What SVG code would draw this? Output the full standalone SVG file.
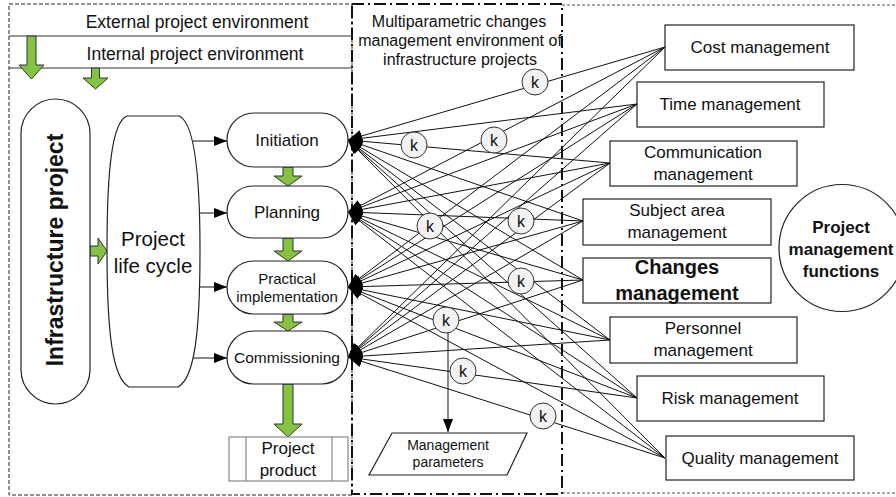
<svg xmlns="http://www.w3.org/2000/svg" width="896" height="497" viewBox="0 0 896 497">
<defs>
<style>
text{font-family:"Liberation Sans",Arial,sans-serif;fill:#111;text-anchor:middle}
.b{font-weight:bold}
.box{fill:#fff;stroke:#222;stroke-width:1.2}
.green{fill:#84c341;stroke:#333;stroke-width:1}
.ln{stroke:#111;stroke-width:1;fill:none}
.k{fill:#f2f2f2;stroke:#333;stroke-width:1}
</style>
<marker id="ah" markerUnits="userSpaceOnUse" markerWidth="15" markerHeight="12" refX="14" refY="6" orient="auto">
<path d="M0,0 L14,6 L0,12 Z" fill="#000"/>
</marker>
<marker id="ah2" markerUnits="userSpaceOnUse" markerWidth="14" markerHeight="10" refX="13" refY="5" orient="auto">
<path d="M0,0 L13,5 L0,10 Z" fill="#000"/>
</marker>
</defs>
<rect width="896" height="497" fill="#fff"/>

<g id="regions">
<rect x="9" y="4" width="343" height="491" fill="none" stroke="#222" stroke-width="1" stroke-dasharray="4,2"/>
<path d="M562,5 H900 M562,493 H900" stroke="#555" stroke-width="1" stroke-dasharray="3,2" fill="none"/>
<rect x="352" y="4" width="210" height="490" fill="none" stroke="#111" stroke-width="2" stroke-dasharray="12,4,2,4"/>
<line x1="9" y1="36" x2="352" y2="36" stroke="#333" stroke-width="1"/>
<line x1="9" y1="68" x2="352" y2="68" stroke="#333" stroke-width="1"/>
</g>

<g id="env-text">
<text x="197" y="28" font-size="17.5">External project environment</text>
<text x="195" y="60" font-size="17.5">Internal project environment</text>
<text x="459" y="27" font-size="16">Multiparametric changes</text>
<text x="460" y="46" font-size="16">management environment of</text>
<text x="460" y="65" font-size="16">infrastructure projects</text>
</g>

<g id="connectors">
<g class="ln" marker-end="url(#ah)">
<line x1="665" y1="47" x2="348" y2="140"/><line x1="665" y1="47" x2="348" y2="212"/><line x1="665" y1="47" x2="348" y2="287"/><line x1="665" y1="47" x2="348" y2="357"/>
<line x1="637" y1="104" x2="348" y2="140"/><line x1="637" y1="104" x2="348" y2="212"/><line x1="637" y1="104" x2="348" y2="287"/><line x1="637" y1="104" x2="348" y2="357"/>
<line x1="610" y1="163" x2="348" y2="140"/><line x1="610" y1="163" x2="348" y2="212"/><line x1="610" y1="163" x2="348" y2="287"/><line x1="610" y1="163" x2="348" y2="357"/>
<line x1="583" y1="221" x2="348" y2="140"/><line x1="583" y1="221" x2="348" y2="212"/><line x1="583" y1="221" x2="348" y2="287"/><line x1="583" y1="221" x2="348" y2="357"/>
<line x1="583" y1="280" x2="348" y2="140"/><line x1="583" y1="280" x2="348" y2="212"/><line x1="583" y1="280" x2="348" y2="287"/><line x1="583" y1="280" x2="348" y2="357"/>
<line x1="610" y1="340" x2="348" y2="140"/><line x1="610" y1="340" x2="348" y2="212"/><line x1="610" y1="340" x2="348" y2="287"/><line x1="610" y1="340" x2="348" y2="357"/>
<line x1="637" y1="398" x2="348" y2="140"/><line x1="637" y1="398" x2="348" y2="212"/><line x1="637" y1="398" x2="348" y2="287"/><line x1="637" y1="398" x2="348" y2="357"/>
<line x1="665" y1="458" x2="348" y2="140"/><line x1="665" y1="458" x2="348" y2="212"/><line x1="665" y1="458" x2="348" y2="287"/><line x1="665" y1="458" x2="348" y2="357"/>
</g>
<g class="ln" marker-end="url(#ah2)">
<line x1="193" y1="141" x2="227" y2="141"/>
<line x1="200" y1="213" x2="227" y2="213"/>
<line x1="200" y1="287" x2="227" y2="287"/>
<line x1="192" y1="358" x2="227" y2="358"/>
<line x1="448" y1="333" x2="448" y2="432"/>
</g>
<polygon class="green" points="27,36 36,36 36,65 44,65 31.5,79 19,65 27,65"/>
<polygon class="green" points="91.5,68 99.5,68 99.5,78 108,78 95.5,89 83,78 91.5,78"/>
<polygon class="green" points="90,246 98,246 98,238 107,251 98,264 98,256 90,256"/>
<polygon class="green" points="283,167 293,167 293,176 302,176 288,186 274,176 283,176"/>
<polygon class="green" points="283,238 293,238 293,251 302,251 288,261 274,251 283,251"/>
<polygon class="green" points="283,314 293,314 293,322 302,322 288,331 274,322 283,322"/>
<polygon class="green" points="283,384 293,384 293,424 302,424 288,437 274,424 283,424"/>
</g>

<g id="k-circles">
<g class="k">
<circle cx="535" cy="82" r="13"/><circle cx="414" cy="145" r="13"/><circle cx="494" cy="140" r="13"/>
<circle cx="430" cy="226" r="13"/><circle cx="521" cy="221" r="13"/><circle cx="521" cy="281" r="13"/>
<circle cx="446" cy="320" r="13"/><circle cx="463" cy="371" r="13"/><circle cx="543" cy="416" r="13"/>
</g>
<g font-size="16">
<text x="535" y="88">k</text><text x="414" y="151">k</text><text x="494" y="146">k</text>
<text x="430" y="232">k</text><text x="521" y="227">k</text><text x="521" y="287">k</text>
<text x="446" y="326">k</text><text x="463" y="377">k</text><text x="543" y="422">k</text>
</g>
</g>

<g id="infrastructure-project">
<rect class="box" x="21" y="99" width="69" height="305" rx="34.5"/>
<text class="b" font-size="23" transform="translate(63,250) rotate(-90)">Infrastructure project</text>
</g>

<g id="life-cycle">
<path class="box" d="M127,116 H179 C194,122 200,170 200,250 C200,330 195,378 178,387 H129 C112,378 107,330 107,250 C107,170 112,122 127,116 Z"/>
<text x="153" y="246" font-size="20.5">Project</text>
<text x="153" y="273" font-size="20.5">life cycle</text>
</g>

<g id="initiation">
<rect class="box" x="227" y="113" width="121" height="54" rx="27"/>
<text x="287" y="146" font-size="17">Initiation</text>
</g>
<g id="planning">
<rect class="box" x="227" y="186" width="121" height="52" rx="26"/>
<text x="287" y="218" font-size="17">Planning</text>
</g>
<g id="practical">
<rect class="box" x="227" y="261" width="121" height="53" rx="26.5"/>
<text x="287" y="284" font-size="15">Practical</text>
<text x="287" y="302" font-size="15">implementation</text>
</g>
<g id="commissioning">
<rect class="box" x="227" y="331" width="121" height="53" rx="26.5"/>
<text x="287" y="363" font-size="15.5">Commissioning</text>
</g>
<g id="product">
<rect x="229" y="437" width="119" height="44" fill="#fff" stroke="#888" stroke-width="1.2"/>
<path d="M246,437 V481 M332,437 V481" stroke="#888" stroke-width="1.2"/>
<text x="288" y="454" font-size="17">Project</text>
<text x="288" y="476" font-size="17">product</text>
</g>

<g id="mgmt-params">
<polygon class="box" points="392,433 527,433 507,475 369,475"/>
<text x="448" y="450" font-size="14">Management</text>
<text x="448" y="467" font-size="14">parameters</text>
</g>

<g id="cost"><rect class="box" x="665" y="25" width="189" height="45"/><text x="760" y="53" font-size="17">Cost management</text></g>
<g id="time"><rect class="box" x="637" y="82" width="187" height="45"/><text x="730" y="110" font-size="17">Time management</text></g>
<g id="communication"><rect class="box" x="610" y="141" width="187" height="45"/><text x="703" y="158" font-size="17">Communication</text><text x="703" y="180" font-size="17">management</text></g>
<g id="subject"><rect class="box" x="583" y="199" width="188" height="46"/><text x="677" y="216" font-size="17">Subject area</text><text x="677" y="238" font-size="17">management</text></g>
<g id="changes"><rect class="box" x="583" y="258" width="188" height="45"/><text class="b" x="677" y="274" font-size="20">Changes</text><text class="b" x="677" y="300" font-size="20">management</text></g>
<g id="personnel"><rect class="box" x="610" y="317" width="187" height="46"/><text x="703" y="334" font-size="17">Personnel</text><text x="703" y="356" font-size="17">management</text></g>
<g id="risk"><rect class="box" x="637" y="376" width="187" height="45"/><text x="730" y="404" font-size="17">Risk management</text></g>
<g id="quality"><rect class="box" x="666" y="436" width="188" height="44"/><text x="760" y="464" font-size="17">Quality management</text></g>

<g id="functions">
<ellipse cx="842" cy="248" rx="63" ry="63.5" fill="#fff" stroke="#222" stroke-width="1.2"/>
<text class="b" x="841" y="233" font-size="17">Project</text>
<text class="b" x="841" y="255" font-size="17">management</text>
<text class="b" x="841" y="277" font-size="17">functions</text>
</g>
</svg>
